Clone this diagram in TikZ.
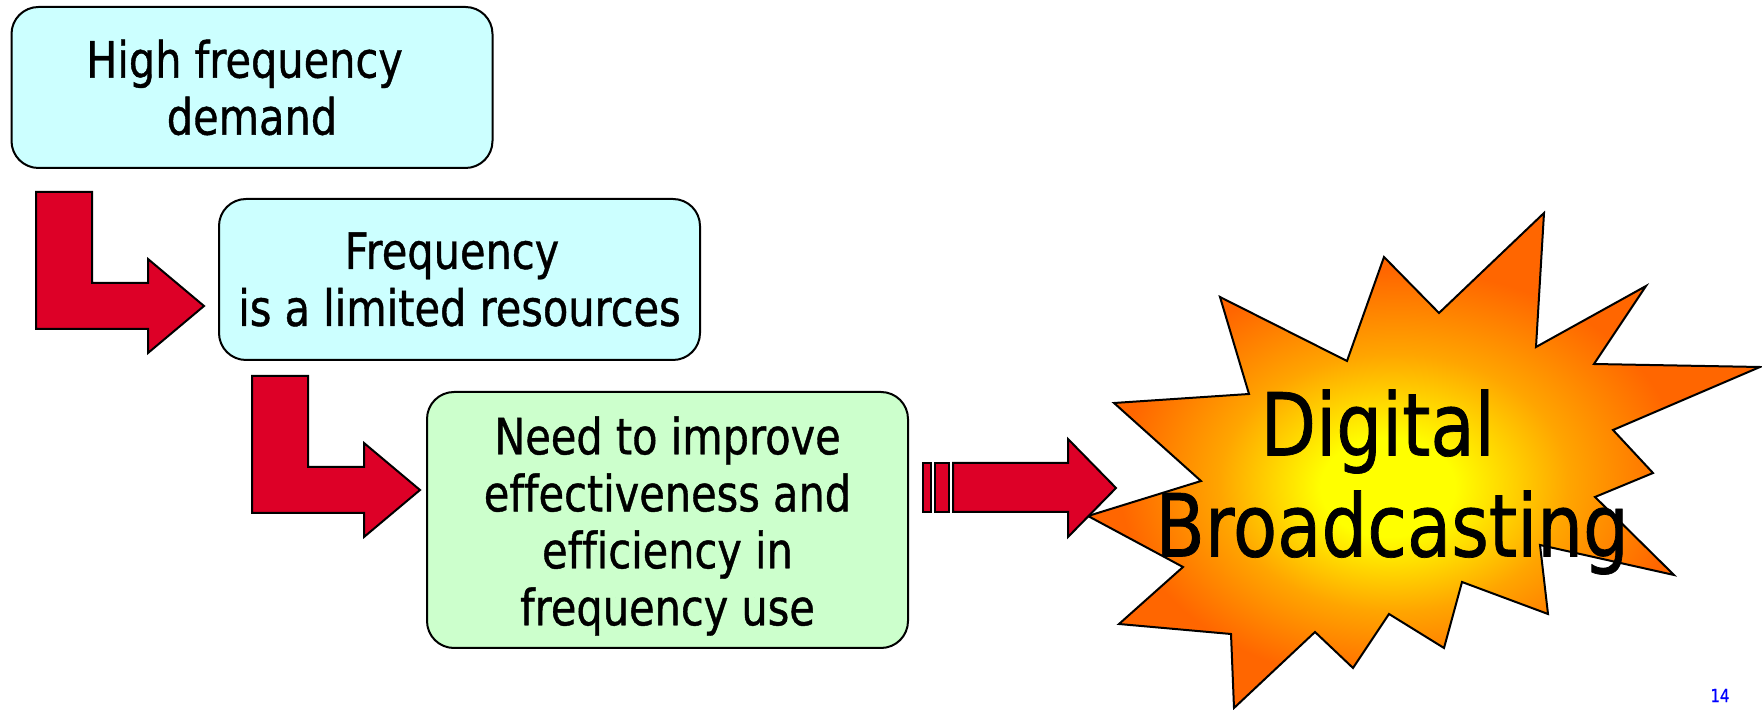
\documentclass[tikz,border=0pt]{standalone}
\usepackage{fontspec}
\setmainfont{DejaVu Sans}[FakeStretch=0.83, FakeBold=0.8, Ligatures=NoCommon]
\definecolor{boxcyan}{RGB}{204,255,255}
\definecolor{boxgreen}{RGB}{204,255,204}
\definecolor{arrowred}{RGB}{221,0,39}
\definecolor{burstorange}{RGB}{255,102,0}
\definecolor{burstmid}{RGB}{255,165,0}
\pgfdeclareradialshading{burst}{\pgfpoint{-3bp}{-3bp}}{color(0bp)=(yellow); color(5bp)=(yellow); color(13bp)=(burstmid); color(21bp)=(burstorange); color(50bp)=(burstorange)}

\begin{document}
\begin{tikzpicture}[x=0.5pt, y=-0.5pt,
	box/.style={draw=black, line width=1pt, rounded corners=13.5pt, minimum width=240.5pt, inner sep=0pt, align=center, font=\fontsize{25}{28.5}\selectfont},
	blockarrow/.style={fill=arrowred, draw=black, line width=1pt},
	burststar/.style={shade, shading=burst, draw=black, line width=1pt},
	pagenum/.style={text=blue, font=\fontsize{9}{10}\selectfont}
	]
	\useasboundingbox (0,0) rectangle (1762,710);
	
	\node (demand) at (252,87.5) [box, fill=boxcyan, minimum height=80.5pt] {High frequency\kern0.3em\\demand};
	\node (limited) at (459.5,279.5) [box, fill=boxcyan, minimum height=80.5pt] {Frequency\kern0.3em\\is a limited resources};
	\node (improve) at (667.5,520) [box, fill=boxgreen, minimum height=128pt] {\rule{0pt}{1em}Need to improve\\effectiveness and\\efficiency in\\frequency use};
	
	\foreach \dx/\dy in {0/0, 216/184} {
		\filldraw [blockarrow, shift={(\dx,\dy)}] (36,192) -- (92,192) -- (92,283) -- (148,283) -- (148,259) -- (204,306) -- (148,353) -- (148,329) -- (36,329) -- cycle;
	}
	
	\path [burststar] (1544,213) -- (1536,347) -- (1646,286) -- (1594,364) -- (1760,367) -- (1613,430) -- (1653,473) -- (1595,497) -- (1674,575) -- (1540,545) -- (1548,614) -- (1462,582) -- (1444,648) -- (1389,614) -- (1353,668) -- (1315,632) -- (1234,708) -- (1231,634) -- (1119,624) -- (1183,567) -- (1088,516) -- (1201,481) -- (1114,403) -- (1249,394) -- (1220,297) -- (1347,361) -- (1384,257) -- (1439,313) -- cycle;
	
	\foreach \a/\b in {923/931, 935/949} {
		\filldraw [blockarrow] (\a,463) rectangle (\b,512);
	}
	\filldraw [blockarrow] (953,463) -- (1068,463) -- (1068,439) -- (1116,488) -- (1068,537) -- (1068,512) -- (953,512) -- cycle;
	
	\node (digital) at (1392,482) [align=center, font=\fontsize{43.5}{50.5}\selectfont] {Digital\kern0.33em\\Broadcasting};
	
	\node (page) at (1720,695.5) [pagenum] {14};
\end{tikzpicture}
\end{document}
